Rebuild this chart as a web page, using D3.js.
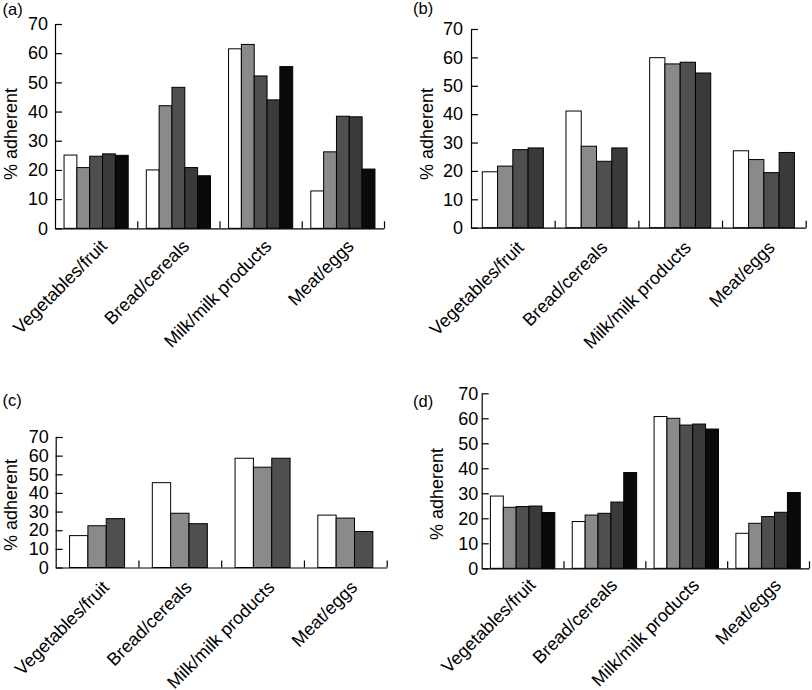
<!DOCTYPE html>
<html>
<head>
<meta charset="utf-8">
<script src="https://cdn.jsdelivr.net/npm/d3@7"></script>
<style>
  html, body { margin: 0; padding: 0; background: #fff; }
  svg { display: block; }
  text { font-family: "Liberation Sans", Arial, Helvetica, sans-serif; fill: #000; }
</style>
</head>
<body>
<svg id="chart" width="812" height="690"></svg>
<script>
// ---------- data ----------
const categories = ["Vegetables/fruit", "Bread/cereals", "Milk/milk products", "Meat/eggs"];
const yTickValues = [0, 10, 20, 30, 40, 50, 60, 70];
const seriesColors = ["#ffffff", "#8a8a8a", "#4f4f4f", "#3a3a3a", "#0a0a0a"];
const colorsThree = ["#ffffff", "#8a8a8a", "#4f4f4f"];

// values per category (bars left to right)
const valuesA = [
  [25.1, 20.8, 24.7, 25.5, 25.0],
  [20.0, 42.0, 48.3, 20.8, 18.0],
  [61.5, 63.0, 52.2, 44.0, 55.4],
  [12.8, 26.2, 38.4, 38.2, 20.3]
];
const valuesB = [
  [19.7, 21.7, 27.5, 28.1],
  [41.1, 28.7, 23.4, 28.1],
  [59.9, 57.7, 58.3, 54.5],
  [27.1, 24.0, 19.4, 26.5]
];
const valuesC = [
  [17.1, 22.4, 26.2],
  [45.5, 29.1, 23.5],
  [58.6, 53.8, 58.6],
  [28.1, 26.5, 19.3]
];
const valuesD = [
  [28.9, 24.4, 24.7, 24.9, 22.3],
  [18.7, 21.3, 22.0, 26.5, 38.3],
  [60.7, 60.0, 57.3, 57.7, 55.7],
  [14.0, 18.0, 20.7, 22.4, 30.3]
];
const panelLabels = ["(a)", "(b)", "(c)", "(d)"];
const yTitle = "% adherent";

// ---------- layout ----------
const panels = [
  { label: panelLabels[0], values: valuesA, colors: seriesColors,
    x0: 55, x1: 384, y0: 228.3, yTop: 24, frac: 0.78, pad: 7,
    lab: [2.5, 15], yt: [17, 134], xl: [12, 19] },
  { label: panelLabels[1], values: valuesB, colors: seriesColors.slice(0, 4),
    x0: 471, x1: 805.7, y0: 227.7, yTop: 29, frac: 0.73, pad: 8,
    lab: [413, 13.5], yt: [433, 134], xl: [12, 21] },
  { label: panelLabels[2], values: valuesC, colors: colorsThree,
    x0: 55.7, x1: 386.7, y0: 567.5, yTop: 437, frac: 0.665, pad: 7,
    lab: [2.5, 406], yt: [17, 505], xl: [13, 21] },
  { label: panelLabels[3], values: valuesD, colors: seriesColors,
    x0: 481.7, x1: 809, y0: 568.3, yTop: 393.3, frac: 0.787, pad: 3.5,
    lab: [413, 406.5], yt: [443, 494], xl: [14, 18] }
];

const svg = d3.select("#chart");

panels.forEach(p => {
  const g = svg.append("g");
  const n = p.colors.length;

  const x = d3.scaleBand().domain(categories).range([p.x0, p.x1]).paddingInner(0).paddingOuter(0);
  const po = n * (1 - p.frac) / (2 * p.frac);
  const xi = d3.scaleBand().domain(d3.range(n)).range([0, x.bandwidth()]).paddingInner(0).paddingOuter(po);
  const y = d3.scaleLinear().domain([0, 70]).range([p.y0, p.yTop]);

  // bars
  categories.forEach((c, ci) => {
    g.selectAll(null)
      .data(p.values[ci])
      .enter().append("rect")
      .attr("x", (d, i) => x(c) + xi(i))
      .attr("y", d => y(d))
      .attr("width", xi.bandwidth())
      .attr("height", d => y(0) - y(d))
      .attr("fill", (d, i) => p.colors[i])
      .attr("stroke", "#000")
      .attr("stroke-width", 1);
  });

  // y axis (ticks inside)
  const yAxis = d3.axisLeft(y).tickValues(yTickValues).tickSizeInner(-7).tickSizeOuter(0).tickPadding(p.pad);
  const ya = g.append("g").attr("transform", `translate(${p.x0},0)`).call(yAxis);
  ya.selectAll("path, line").attr("stroke", "#000").attr("stroke-width", 1.2);
  ya.selectAll("text").attr("font-size", 18).attr("font-family", '"Liberation Sans", Arial, sans-serif').attr("fill", "#000");

  // x axis: category boundary ticks pointing up
  const xb = d3.scaleLinear().domain([0, categories.length]).range([p.x0, p.x1]);
  const xAxis = d3.axisBottom(xb).tickValues(d3.range(1, categories.length + 1)).tickSizeInner(-7).tickSizeOuter(0).tickFormat("");
  const xa = g.append("g").attr("transform", `translate(0,${p.y0})`).call(xAxis);
  xa.selectAll("path, line").attr("stroke", "#000").attr("stroke-width", 1.2);

  // category labels rotated -45
  g.selectAll(null)
    .data(categories)
    .enter().append("text")
    .attr("transform", d => `translate(${x(d) + x.bandwidth() / 2 + p.xl[0]},${p.y0 + p.xl[1]}) rotate(-45)`)
    .attr("text-anchor", "end")
    .attr("font-size", 18)
    .text(d => d);

  // y title
  g.append("text")
    .attr("transform", `translate(${p.yt[0]},${p.yt[1]}) rotate(-90)`)
    .attr("text-anchor", "middle")
    .attr("font-size", 18)
    .text(yTitle);

  // panel label
  g.append("text")
    .attr("x", p.lab[0]).attr("y", p.lab[1])
    .attr("font-size", 16.5)
    .text(p.label);
});
</script>
</body>
</html>
